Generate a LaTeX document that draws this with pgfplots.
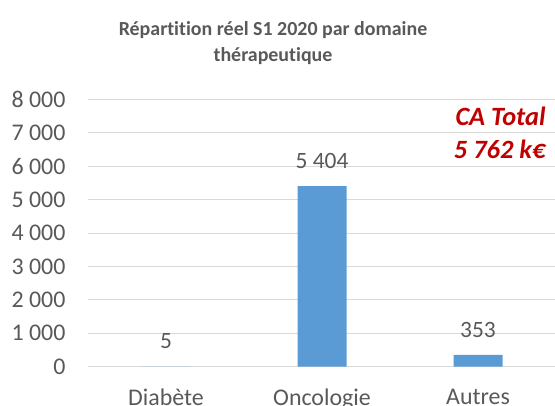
\documentclass[border=0pt]{standalone}
\usepackage{pgfplots}
\pgfplotsset{compat=1.18}
\usepackage{fontspec}
\setmainfont{Carlito}[Ligatures=NoCommon]
\definecolor{barblue}{HTML}{5B9BD5}
\definecolor{txtgray}{HTML}{595959}
\definecolor{gridgray}{HTML}{D9D9D9}
\definecolor{cared}{HTML}{C00000}
\begin{document}
\begin{tikzpicture}
\useasboundingbox (-88bp,-39.3bp) rectangle (467bp,366.7bp);
\begin{axis}[
    at={(0,0)}, anchor=south west,
    scale only axis,
    width=468bp, height=267.4bp,
    xmin=-0.5, xmax=2.5,
    ymin=0, ymax=8000,
    ytick={0,1000,...,8000},
    xtick=data,
    xticklabels={Diabète,Oncologie,Autres},
    axis line style={draw=none},
    major tick length=0pt,
    ymajorgrids=true,
    grid style={gridgray, line width=1pt},
    ybar, bar width=49bp,
    /pgf/number format/.cd, 1000 sep={\ }, assume math mode=true,
    /pgfplots/.cd,
    scaled y ticks=false,
    ticklabel style={font=\fontsize{24}{28}\selectfont, text=txtgray},
    yticklabel style={xshift=-19bp},
    xticklabel style={yshift=-19bp},
    nodes near coords,
    nodes near coords style={font=\fontsize{23.5}{28}\selectfont, text=txtgray, yshift=14bp},
    clip=false,
]
\addplot[fill=barblue, draw=none] coordinates {(0,5) (1,5404) (2,353)};
\end{axis}
\node[font=\bfseries\fontsize{20}{26}\selectfont, text=txtgray, align=center] at (185bp,324bp) {Répartition réel S1 2020 par domaine\\thérapeutique};
\node[font=\bfseries\itshape\fontsize{26.5}{33}\selectfont, text=cared, align=right, anchor=east] at (461bp,234bp) {CA Total\\5 762 k€};
\end{tikzpicture}
\end{document}
